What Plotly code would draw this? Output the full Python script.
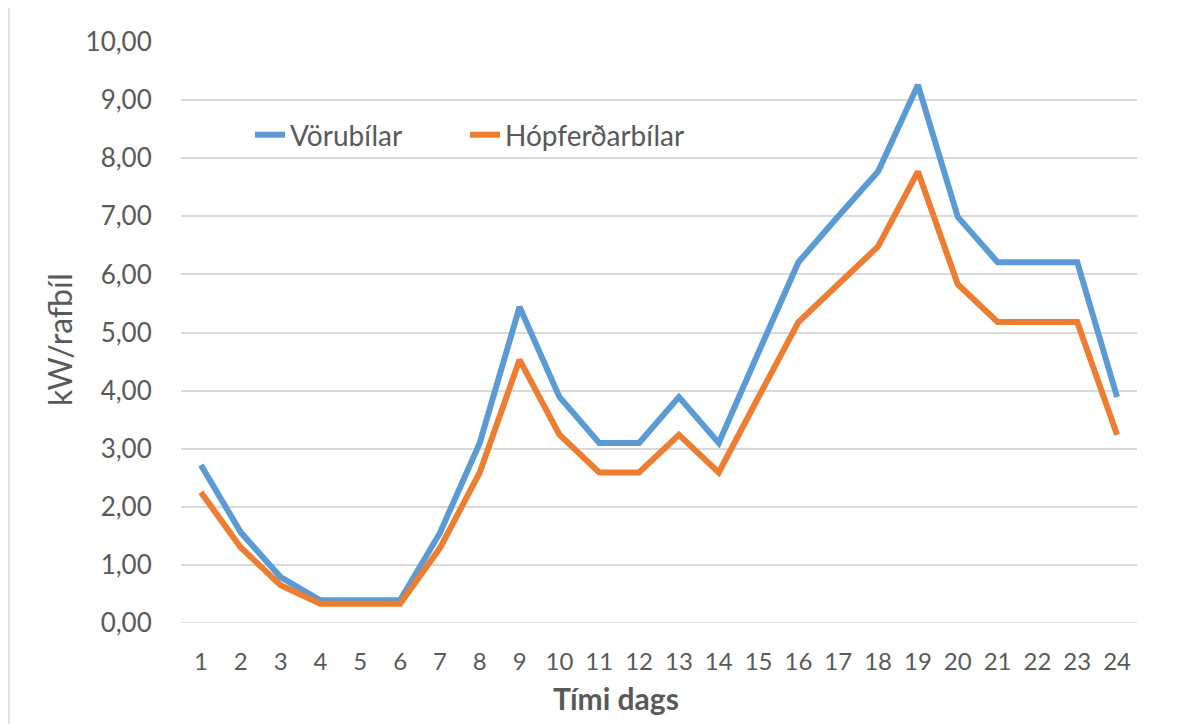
import plotly.graph_objects as go

hours = list(range(1, 25))
vorubilar = [2.72, 1.56, 0.79, 0.39, 0.39, 0.39, 1.55, 3.10, 5.44, 3.89, 3.10, 3.10,
             3.89, 3.10, 4.66, 6.21, 7.00, 7.77, 9.26, 6.99, 6.21, 6.21, 6.21, 3.89]
hopferdarbilar = [2.25, 1.30, 0.65, 0.33, 0.33, 0.33, 1.29, 2.59, 4.53, 3.24, 2.59, 2.59,
                  3.24, 2.59, 3.89, 5.18, 5.83, 6.48, 7.77, 5.83, 5.18, 5.18, 5.18, 3.24]
y_ticks = [0, 1, 2, 3, 4, 5, 6, 7, 8, 9, 10]

FONT = "Lato"
TXT = "#595959"

W, H = 1183, 716
L, R, T, B = 173, 54, 34, 101
PW, PH = W - L - R, H - T - B

def px_x(x):  # figure pixel -> paper
    return (x - L) / PW

def px_y(y):
    return (T + PH - y) / PH

fig = go.Figure()
fig.add_trace(go.Scatter(x=hours, y=vorubilar, mode="lines", name="Vörubílar",
                         line=dict(color="#5B9BD5", width=6), legend="legend"))
fig.add_trace(go.Scatter(x=hours, y=hopferdarbilar, mode="lines", name="Hópferðarbílar",
                         line=dict(color="#ED7D31", width=6), legend="legend2"))

leg_common = dict(orientation="h", xanchor="left", yanchor="middle",
                  font=dict(size=28, color=TXT, family=FONT), bgcolor="rgba(0,0,0,0)")

fig.update_layout(
    width=W, height=H,
    margin=dict(l=L, r=R, t=T, b=B),
    paper_bgcolor="white", plot_bgcolor="white",
    separators=", ",
    font=dict(family=FONT, color=TXT, size=24),
    showlegend=True,
    legend=dict(x=px_x(242), y=px_y(127), **leg_common),
    legend2=dict(x=px_x(457), y=px_y(127), **leg_common),
    xaxis=dict(range=[0.5, 24.5], tickmode="array", tickvals=hours,
               ticktext=[str(h) for h in hours], showgrid=False, zeroline=False,
               showline=False, ticks="outside", ticklen=17, tickcolor="rgba(0,0,0,0)",
               tickfont=dict(size=24, color=TXT, family=FONT)),
    yaxis=dict(range=[0, 10], tickmode="array", tickvals=y_ticks, tickformat=".2f",
               showgrid=True, gridcolor="#D9D9D9", gridwidth=1.5, zeroline=False,
               showline=False, ticks="outside", ticklen=23, tickcolor="rgba(0,0,0,0)",
               tickfont=dict(size=26, color=TXT, family=FONT)),
)

fig.add_annotation(text="<b>Tími dags</b>", xref="paper", yref="paper",
                   x=px_x(608), y=px_y(690), xanchor="center", yanchor="middle",
                   showarrow=False, font=dict(size=30, color=TXT, family=FONT))
fig.add_annotation(text="kW/rafbíl", xref="paper", yref="paper", textangle=-90,
                   x=px_x(51), y=px_y(332), xanchor="center", yanchor="middle",
                   showarrow=False, font=dict(size=32, color=TXT, family=FONT))

fig.add_shape(type="line", xref="paper", yref="y", x0=0, x1=1, y0=0, y1=0,
              line=dict(color="#D9D9D9", width=1.5), layer="below")
fig.add_shape(type="rect", xref="paper", yref="paper",
              x0=px_x(1), x1=px_x(W + 20),
              y0=px_y(H + 20), y1=px_y(-3),
              line=dict(color="#D9D9D9", width=1.5))

fig.write_html("out.html")
